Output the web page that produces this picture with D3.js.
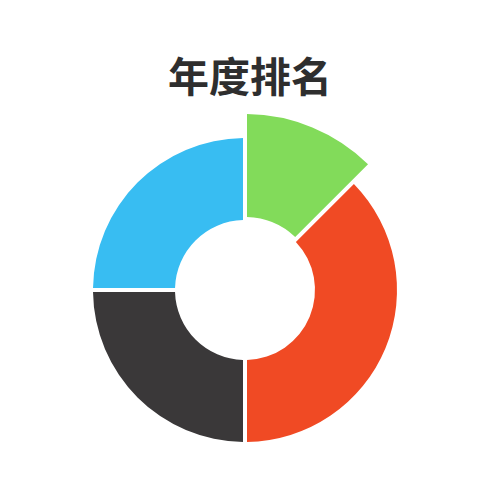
<!DOCTYPE html>
<html>
<head>
<meta charset="utf-8">
<script src="https://cdn.jsdelivr.net/npm/d3@7"></script>
<style>
  html, body { margin: 0; padding: 0; background: #fff; }
  svg { display: block; }
</style>
</head>
<body>
<svg width="500" height="500"></svg>
<script>
const title = "年度排名";
const categories = ["A", "B", "C", "D"];
const values = [12.5, 37.5, 25, 25];
const colors = ["#82db5a", "#f04a24", "#3a3839", "#38bdf2"];
const highlighted = "A";

const svg = d3.select("svg");

svg.append("text")
    .attr("x", 250)
    .attr("y", 92)
    .attr("text-anchor", "middle")
    .attr("font-family", "'Noto Sans CJK SC', sans-serif")
    .attr("font-weight", 700)
    .attr("font-size", 41)
    .attr("fill", "#2e2e2e")
    .text(title);

const data = categories.map((c, i) => ({ name: c, value: values[i] }));

const pie = d3.pie()
    .value(d => d.value)
    .sort(null);

// highlighted slice sticks out further than the others
const arc = d3.arc()
    .innerRadius(d => d.data.name === highlighted ? 73 : 70)
    .outerRadius(d => d.data.name === highlighted ? 176 : 152)
    .padAngle(0.04)
    .padRadius(100);

const color = d3.scaleOrdinal()
    .domain(categories)
    .range(colors);

svg.append("g")
    .attr("transform", "translate(245,290)")
    .selectAll("path")
    .data(pie(data))
    .enter()
    .append("path")
    .attr("d", arc)
    .attr("fill", d => color(d.data.name));
</script>
</body>
</html>
